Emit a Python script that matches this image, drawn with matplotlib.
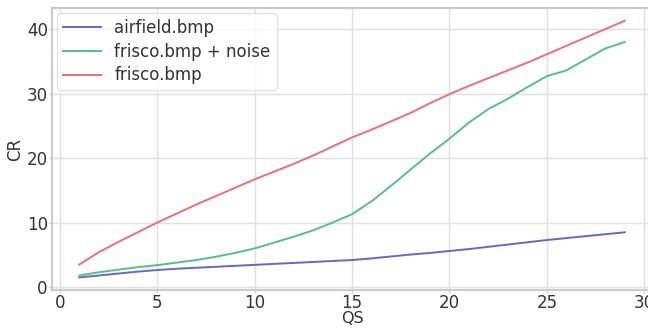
import numpy as np
import matplotlib.pyplot as plt

# quality step values and the compression ratio reached for each image
qs = list(range(1, 30))
cr_airfield = [1.5, 1.8, 2.1, 2.4, 2.65, 2.85, 3.0, 3.15, 3.3, 3.45,
               3.6, 3.75, 3.9, 4.05, 4.2, 4.45, 4.75, 5.05, 5.3, 5.6,
               5.9, 6.25, 6.6, 6.95, 7.3, 7.6, 7.9, 8.2, 8.5]
cr_frisco_noise = [1.8, 2.3, 2.7, 3.1, 3.4, 3.8, 4.2, 4.7, 5.3, 6.0,
                   6.9, 7.8, 8.8, 10.0, 11.3, 13.3, 15.7, 18.2, 20.7, 23.0,
                   25.5, 27.6, 29.2, 31.0, 32.7, 33.6, 35.3, 37.0, 38.0]
cr_frisco = [3.5, 5.4, 7.0, 8.5, 10.0, 11.4, 12.8, 14.1, 15.4, 16.7,
             17.9, 19.1, 20.4, 21.8, 23.2, 24.4, 25.7, 27.0, 28.5, 29.9,
             31.2, 32.4, 33.6, 34.8, 36.1, 37.4, 38.7, 40.0, 41.3]
labels = ["airfield.bmp", "frisco.bmp + noise", "frisco.bmp"]
colors = ["#6767c4", "#58bd8e", "#ea6f78"]

fig = plt.figure(figsize=(6.48, 3.28), dpi=100)
ax = fig.add_axes([0.0802, 0.115, 0.926, 0.861])

for y, lab, col in zip([cr_airfield, cr_frisco_noise, cr_frisco], labels, colors):
    ax.plot(qs, y, color=col, lw=1.4, label=lab)

ax.margins(x=0.05, y=0.05)
ax.grid(True, color="#e0e0e0", lw=1.0)
ax.set_axisbelow(True)
for s in ax.spines.values():
    s.set_color("#cccccc")
    s.set_linewidth(1.6)
ax.tick_params(colors="#cccccc", labelcolor="#333333", labelsize=12,
               length=2, width=1, pad=1)
ax.set_xticks([0, 5, 10, 15, 20, 25, 30])
ax.set_yticks([0, 10, 20, 30, 40])
ax.set_xlabel("QS", fontsize=11.5, color="#333333", labelpad=-1)
ax.set_ylabel("CR", fontsize=12, color="#333333", labelpad=2)

leg = ax.legend(loc="upper left", fontsize=12, frameon=True, borderaxespad=0.3,
                handlelength=2.3, labelspacing=0.35, borderpad=0.35)
leg.get_frame().set_edgecolor("#dddddd")
for t in leg.get_texts():
    t.set_color("#333333")

fig.savefig("out.png", dpi=100)
